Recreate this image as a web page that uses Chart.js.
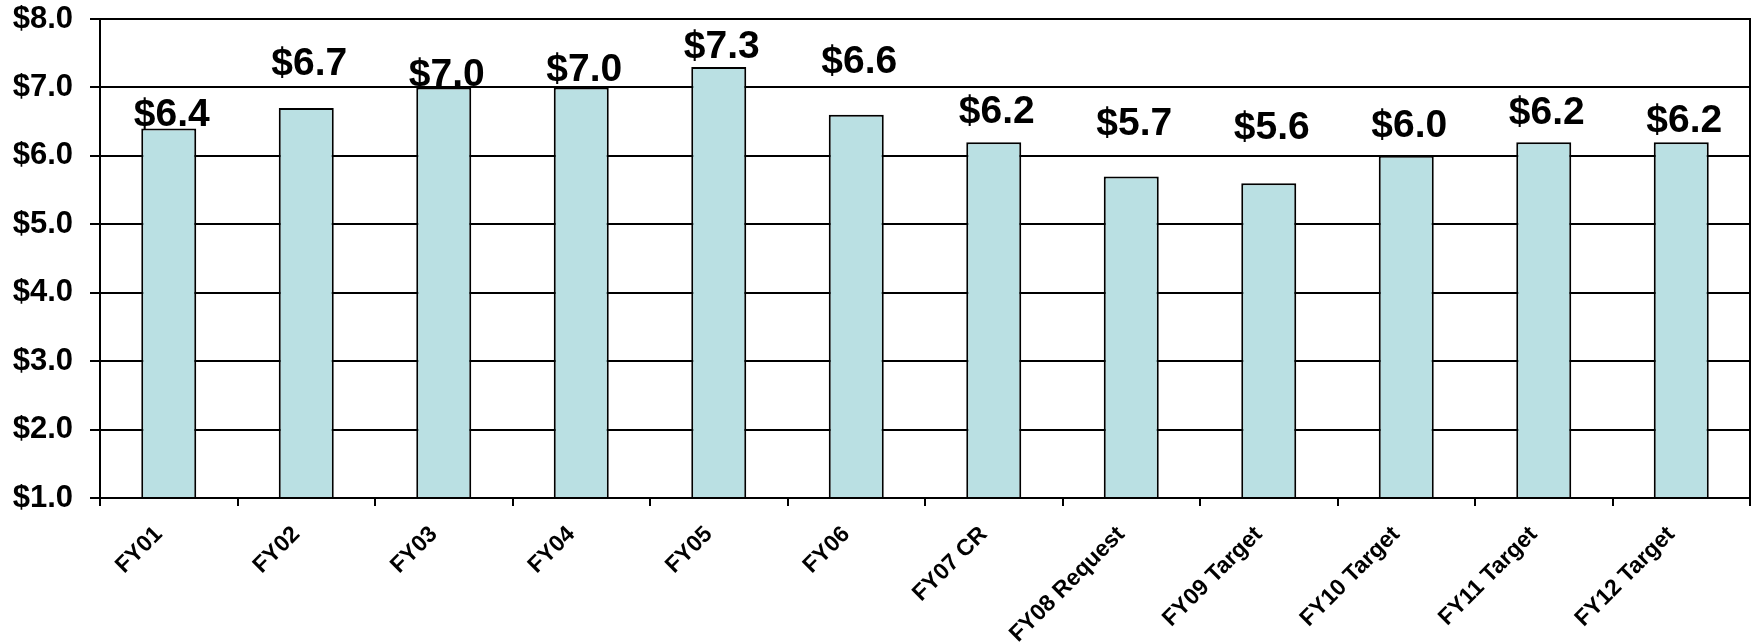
<!DOCTYPE html>
<html>
<head>
<meta charset="utf-8">
<script src="https://cdn.jsdelivr.net/npm/chart.js@4.4.1/dist/chart.umd.min.js"></script>
<style>
  html, body { margin: 0; padding: 0; background: #fff; }
  #wrap { width: 1755px; height: 642px; }
</style>
</head>
<body>
<div id="wrap"><canvas id="chart"></canvas></div>
<script>
const categories = ['FY01', 'FY02', 'FY03', 'FY04', 'FY05', 'FY06', 'FY07 CR',
  'FY08 Request', 'FY09 Target', 'FY10 Target', 'FY11 Target', 'FY12 Target'];
const amounts = [6.4, 6.7, 7.0, 7.0, 7.3, 6.6, 6.2, 5.7, 5.6, 6.0, 6.2, 6.2];
const yTickValues = [1, 2, 3, 4, 5, 6, 7, 8];

// how far each value label sits above its bar (px), as placed in the original
const labelLift = [2, 33, 1, 6, 9, 42, 19, 41, 44, 19, 18, 10];

const money = v => '$' + Number(v).toFixed(1);

const barLabels = {
  id: 'barLabels',
  afterDatasetsDraw(chart) {
    const ctx = chart.ctx;
    const meta = chart.getDatasetMeta(0);
    ctx.save();
    ctx.font = 'bold 39px "Liberation Sans", Arial, sans-serif';
    ctx.fillStyle = '#000';
    ctx.textAlign = 'center';
    ctx.textBaseline = 'alphabetic';
    meta.data.forEach((bar, i) => {
      ctx.fillText(money(amounts[i]), bar.x + 3, bar.y - labelLift[i]);
    });
    ctx.restore();
  }
};

const plotFrame = {
  id: 'plotFrame',
  afterDraw(chart) {
    const a = chart.chartArea;
    const ctx = chart.ctx;
    ctx.save();
    ctx.strokeStyle = '#000';
    ctx.lineWidth = 2;
    ctx.strokeRect(a.left, a.top, a.right - a.left, a.bottom - a.top);
    ctx.restore();
  }
};

new Chart(document.getElementById('chart'), {
  type: 'bar',
  data: {
    labels: categories,
    datasets: [{
      data: amounts,
      backgroundColor: '#BAE0E3',
      borderColor: '#000',
      borderWidth: 2,
      borderSkipped: false,
      categoryPercentage: 1,
      barPercentage: 0.4
    }]
  },
  options: {
    responsive: true,
    maintainAspectRatio: false,
    animation: false,
    layout: { padding: { top: 19, right: 5, left: 0, bottom: 0 } },
    plugins: {
      legend: { display: false },
      tooltip: { enabled: false }
    },
    scales: {
      x: {
        grid: {
          offset: true,
          drawOnChartArea: false,
          drawTicks: true,
          tickLength: 8,
          color: '#000',
          lineWidth: 2
        },
        border: { color: '#000', width: 2 },
        ticks: {
          color: '#000',
          font: { family: '"Liberation Sans", Arial, sans-serif', size: 23, weight: 'bold' },
          maxRotation: 45,
          minRotation: 45,
          padding: 15,
          labelOffset: -10,
          autoSkip: false
        },
        afterFit(scale) {
          scale.height = 144;
          scale.paddingLeft = 0;
          scale.paddingRight = 0;
        }
      },
      y: {
        min: yTickValues[0],
        max: yTickValues[yTickValues.length - 1],
        afterBuildTicks(scale) { scale.ticks = yTickValues.map(v => ({ value: v })); },
        grid: {
          color: '#000',
          lineWidth: 2,
          tickLength: 10
        },
        border: { color: '#000', width: 2 },
        ticks: {
          color: '#000',
          font: { family: '"Liberation Sans", Arial, sans-serif', size: 31, weight: 'bold' },
          padding: 17,
          callback: v => money(v)
        },
        afterFit(scale) {
          scale.width = 100;
          scale.paddingTop = 0;
          scale.paddingBottom = 0;
        }
      }
    }
  },
  plugins: [barLabels, plotFrame]
});
</script>
</body>
</html>
